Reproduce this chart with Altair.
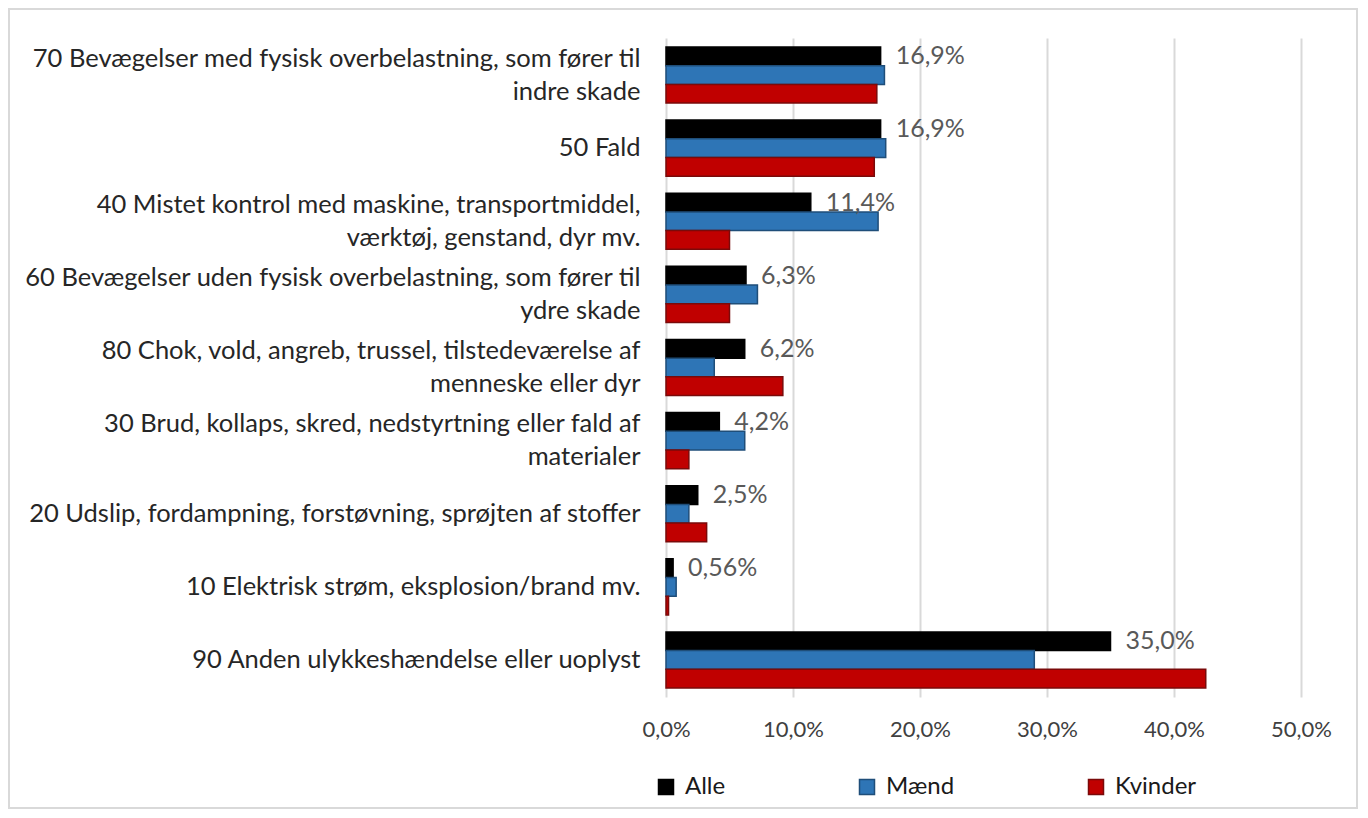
import altair as alt
import pandas as pd

categories = [
    "70 Bevægelser med fysisk overbelastning, som fører til|indre skade",
    "50 Fald",
    "40 Mistet kontrol med maskine, transportmiddel,|værktøj, genstand, dyr mv.",
    "60 Bevægelser uden fysisk overbelastning, som fører til|ydre skade",
    "80 Chok, vold, angreb, trussel, tilstedeværelse af|menneske eller dyr",
    "30 Brud, kollaps, skred, nedstyrtning eller fald af|materialer",
    "20 Udslip, fordampning, forstøvning, sprøjten af stoffer",
    "10 Elektrisk strøm, eksplosion/brand mv.",
    "90 Anden ulykkeshændelse eller uoplyst",
]
series = ["Alle", "Mænd", "Kvinder"]
alle = [16.9, 16.9, 11.4, 6.3, 6.2, 4.2, 2.5, 0.56, 35.0]
maend = [17.2, 17.3, 16.7, 7.2, 3.8, 6.2, 1.8, 0.8, 29.0]
kvinder = [16.6, 16.4, 5.0, 5.0, 9.2, 1.8, 3.2, 0.2, 42.5]
alle_labels = ["16,9%", "16,9%", "11,4%", "6,3%", "6,2%", "4,2%", "2,5%", "0,56%", "35,0%"]
x_ticks = [0, 10, 20, 30, 40, 50]

fills = ["#000000", "#2e75b6", "#c00000"]
strokes = ["#000000", "#1f4e79", "#7a0a0a"]

rows = []
for i, c in enumerate(categories):
    for s, vals in zip(series, [alle, maend, kvinder]):
        rows.append({"category": c, "series": s, "value": vals[i],
                     "label": alle_labels[i] if s == "Alle" else ""})
df = pd.DataFrame(rows)

FONT = "Lato"

legend = alt.Legend(
    title=None, orient="none", legendX=-12, legendY=737, direction="horizontal",
    columnPadding=129, symbolType="square", symbolSize=225, symbolStrokeWidth=1.5,
    labelFontSize=24, labelFont=FONT, labelColor="#1a1a1a", labelOffset=7,
)

x_enc = alt.X(
    "value:Q", title=None,
    scale=alt.Scale(domain=[0, 50], nice=False),
    axis=alt.Axis(
        values=x_ticks,
        labelExpr="replace(format(datum.value, '.1f'), '.', ',') + '%'",
        grid=True, gridColor="#d9d9d9", gridWidth=2, domain=False, ticks=False,
        labelFlush=False,
        labelFontSize=22, labelFont=FONT, labelColor="#404040", labelPadding=22,
    ),
)
y_enc = alt.Y(
    "category:N", sort=categories, title=None,
    scale=alt.Scale(paddingInner=0.233, paddingOuter=0.123),
    axis=alt.Axis(
        labelExpr="split(datum.label, '|')", labelLimit=900,
        minExtent=658, maxExtent=658, domain=False, ticks=False,
        labelPadding=26, labelFontSize=25.5, labelFont=FONT, labelColor="#262626",
        labelLineHeight=33,
        labelOffset={"condition": {"test": "indexof(datum.value, '|') >= 0", "value": -16.5},
                     "value": 0},
    ),
)
yoff = alt.YOffset("series:N", sort=series,
                   scale=alt.Scale(domain=series, paddingInner=0, paddingOuter=0))

bars = alt.Chart(df).mark_bar(strokeWidth=1.5).encode(
    x=x_enc, y=y_enc, yOffset=yoff,
    fill=alt.Fill("series:N", sort=series,
                  scale=alt.Scale(domain=series, range=fills), legend=legend),
    stroke=alt.Stroke("series:N", sort=series,
                      scale=alt.Scale(domain=series, range=strokes), legend=legend),
)

labels = alt.Chart(df).transform_filter(alt.datum.series == "Alle").mark_text(
    align="left", baseline="middle", dx=15, fontSize=25, font=FONT, color="#595959"
).encode(x=x_enc, y=y_enc, yOffset=yoff, text="label:N")

frame = alt.Chart(pd.DataFrame({"a": [0]})).mark_rect(
    fillOpacity=0, stroke="#d9d9d9", strokeWidth=2
).encode(x=alt.value(-657), x2=alt.value(691), y=alt.value(-29), y2=alt.value(770))

chart = alt.layer(frame, bars, labels).properties(
    width=635, height=659, padding=0
).configure_view(stroke=None)

chart.save("out.html", embed_options={"renderer": "svg", "actions": False})
